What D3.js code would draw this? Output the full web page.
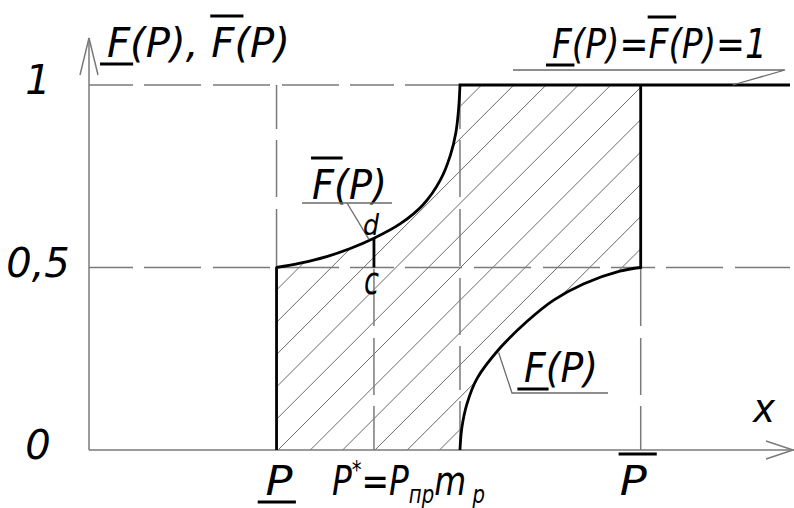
<!DOCTYPE html>
<html>
<head>
<meta charset="utf-8">
<script src="https://cdn.jsdelivr.net/npm/d3@7"></script>
<style>
  html, body { margin: 0; padding: 0; background: #fff; }
  svg text { font-family: "DejaVu Sans", sans-serif; font-style: italic; fill: #000; }
</style>
</head>
<body>
<svg id="chart" width="794" height="508"></svg>
<script>
// ---- data: p-box of the failure probability P ----
const yTickValues = [0, 0.5, 1];
const yTickLabels = ["0", "0,5", "1"];
const xMax = 7.7;

// characteristic points on the P axis
const pLower = 2.06;   // lower bound P
const pStar  = 3.13;   // P* = Pпр m_p
const pMode  = 4.075;  // where both bounds switch
const pUpper = 6.06;   // upper bound P
const fAtC = 0.5;      // point c
const fAtD = 0.58;     // point d

// upper bound F̄(P), rising from 0.5 to 1
const upperP = [2.06, 2.32, 2.61, 2.87, 3.13, 3.42, 3.67, 3.86, 3.97, 4.03, 4.06, 4.075];
const upperF = [0.5, 0.512, 0.530, 0.552, 0.58, 0.620, 0.672, 0.740, 0.808, 0.870, 0.935, 1.0];

// lower bound F(P), rising from 0 to 0.5
const lowerP = [4.075, 4.095, 4.15, 4.26, 4.51, 4.81, 5.10, 5.43, 5.83, 6.06];
const lowerF = [0, 0.06, 0.125, 0.195, 0.278, 0.352, 0.410, 0.455, 0.490, 0.5];

// ---- drawing ----
const svg = d3.select("#chart");
const x = d3.scaleLinear().domain([0, xMax]).range([89, 790]);
const y = d3.scaleLinear().domain([0, 1]).range([450, 85]);

const GRID = "#7a7a7a";
const upper = upperP.map((p, i) => [p, upperF[i]]);
const lower = lowerP.map((p, i) => [p, lowerF[i]]);
const curve = d3.line().x(d => x(d[0])).y(d => y(d[1])).curve(d3.curveCatmullRom.alpha(0.5));
const pt = (p, f) => `${x(p)},${y(f)}`;

// hatched band between the two bounds (outer region minus region under F(P))
const outer = `M${pt(pLower, 0)}` + curve(upper).replace(/^M/, "L") +
              `L${pt(pUpper, 1)}L${pt(pUpper, 0)}Z`;
const inner = curve(lower) + `L${pt(pUpper, 0)}Z`;
svg.append("clipPath").attr("id", "band")
  .append("path").attr("d", outer + inner).attr("clip-rule", "evenodd");

const hatchStep = 32.3;
const hatchStarts = d3.range(-14, 14).map(k => x(pLower) + 1.5 + k * hatchStep);
svg.append("g").attr("clip-path", "url(#band)")
  .selectAll("line").data(hatchStarts).join("line")
  .attr("x1", d => d).attr("y1", y(0))
  .attr("x2", d => d + 420).attr("y2", y(0) - 420)
  .attr("stroke", "#6a6a6a").attr("stroke-width", 1);

// dashed guide lines
const guides = [
  [[0, 1], [pMode, 1]],
  [[0, 0.5], [xMax, 0.5]],
  [[pLower, 1], [pLower, 0.5]],
  [[pStar, 0], [pStar, fAtC]],
  [[pMode, 1], [pMode, 0]],
  [[pUpper, 0], [pUpper, 0.5]]
];
svg.append("g").selectAll("line").data(guides).join("line")
  .attr("x1", d => x(d[0][0])).attr("y1", d => y(d[0][1]))
  .attr("x2", d => x(d[1][0])).attr("y2", d => y(d[1][1]))
  .attr("stroke", GRID).attr("stroke-width", 1.5)
  .attr("stroke-dasharray", "44,11,57,12,57,12,57,11");

// axes with open arrow heads
const axes = svg.append("g").attr("stroke", GRID).attr("stroke-width", 1.5).attr("fill", "none");
axes.append("path").attr("d", `M89,${y(0)}V38`);
axes.append("path").attr("d", "M80,75L89,38L98,75");
axes.append("path").attr("d", `M89,${y(0)}H794`);
axes.append("path").attr("d", `M766,441L793,${y(0)}L766,459`);

const yAxis = d3.axisLeft(y).tickValues(yTickValues)
  .tickFormat((d, i) => yTickLabels[i]).tickSize(0);
const gy = svg.append("g").attr("transform", "translate(89,0)").call(yAxis);
gy.select(".domain").remove();
gy.attr("font-family", null).attr("font-size", null);
gy.selectAll("text").attr("x", -51).attr("dy", "0.22em")
  .attr("text-anchor", "middle").attr("font-size", 40);

// bounds (thick)
const thick = svg.append("g").attr("stroke", "#000").attr("stroke-width", 2.8)
  .attr("fill", "none").attr("stroke-linejoin", "miter");
thick.append("path").attr("d",
  `M${pt(pLower, 0)}L${pt(pLower, 0.5)}` + curve(upper).replace(/^M[^LC]*/, "") + `L${pt(xMax, 1)}`);
thick.append("path").attr("d", curve(lower) + `L${pt(pUpper, 1)}`);
thick.append("path").attr("d", `M${pt(pStar, fAtC)}L${pt(pStar, fAtD)}`);

// ---- labels with under/over bars and sub/superscripts ----
function label(parts, x0, base, size, width) {
  const g = svg.append("g").attr("transform", `translate(${x0},${base})`);
  const inner = g.append("g");
  const k = size / 40;
  let cx = 0;
  parts.forEach(p => {
    const small = p.sub || p.sup;
    const fs = small ? size * 0.6 : size;
    const dy = p.sub ? size * 0.2 : p.sup ? -size * 0.42 : 0;
    const t = inner.append("text").attr("x", cx).attr("y", dy)
      .attr("font-size", fs).text(p.t);
    const w = t.node().getComputedTextLength();
    if (p.bar === "under") {
      inner.append("line").attr("x1", cx - 7 * k).attr("x2", cx + w + 3 * k)
        .attr("y1", 7 * k).attr("y2", 7 * k).attr("stroke", "#000").attr("stroke-width", 3);
    }
    if (p.bar === "over") {
      inner.append("line").attr("x1", cx - 1 * k).attr("x2", cx + w + 9 * k)
        .attr("y1", -41 * k).attr("y2", -41 * k).attr("stroke", "#000").attr("stroke-width", 3);
    }
    cx += w;
  });
  if (width) inner.attr("transform", `scale(${width / cx},1)`);
  return g;
}

const leader = pts => svg.append("path").attr("d", d3.line()(pts))
  .attr("fill", "none").attr("stroke", "#6a6a6a").attr("stroke-width", 1.3);

label([{ t: "F", bar: "under" }, { t: "(P),\u00a0" }, { t: "F", bar: "over" }, { t: "(P)" }], 107, 57, 40, 183);

label([{ t: "F", bar: "under" }, { t: "(P)=" }, { t: "F", bar: "over" }, { t: "(P)=1" }], 552, 58, 40, 215);
leader([[513, 70], [785, 70], [x(7.07), y(1)]]);

label([{ t: "F", bar: "over" }, { t: "(P)" }], 312, 199, 40, 75);
leader([[302, 203], [392, 203]]);
leader([[347, 203], [x(pStar) - 5, y(fAtD) + 1]]);
label([{ t: "d" }], 363, 235, 29, 16);
label([{ t: "c" }], 364, 294, 38, 15);

label([{ t: "F", bar: "under" }, { t: "(P)" }], 524, 382, 40, 74);
leader([[608, 393], [512, 393], [x(lowerP[4]) - 1, y(lowerF[4]) + 4]]);

label([{ t: "x" }], 753, 422, 40, 22);

label([{ t: "P", bar: "under" }], x(pLower) - 11, 495, 40, 27);
label([{ t: "P" }, { t: "*", sup: true }, { t: "=" }, { t: "P" }, { t: "пр", sub: true },
       { t: "m" }, { t: "\u00a0p", sub: true }], x(pStar) - 42, 495, 40, 153);
label([{ t: "P", bar: "over" }], x(pUpper) - 21, 495, 40, 27);
</script>
</body>
</html>
